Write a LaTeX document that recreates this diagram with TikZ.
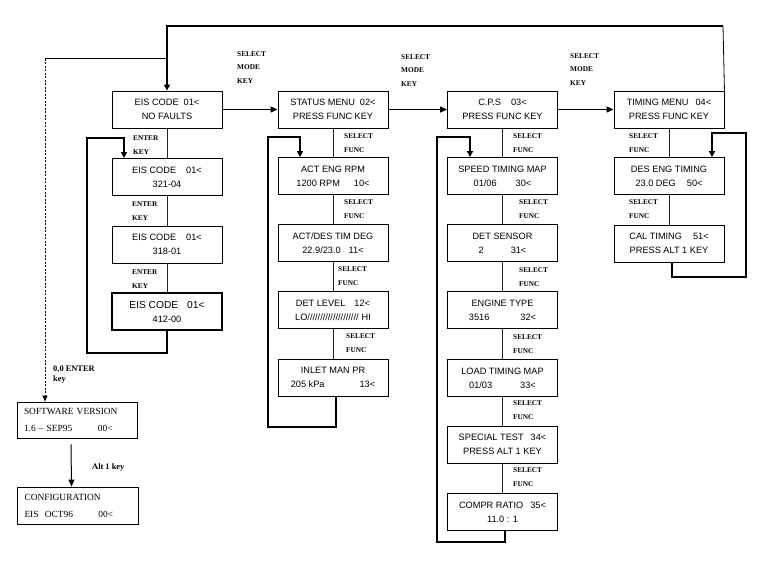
\documentclass[tikz,border=0pt]{standalone}
\usepackage{fontspec}
\setmainfont{Liberation Serif}
\setsansfont{Liberation Sans}
\usetikzlibrary{arrows.meta}

\begin{document}
\begin{tikzpicture}
[x=1pt,y=-1pt,
  screen/.style={shape=rectangle,draw,line width=0.9pt,minimum width=110pt,minimum height=37pt,inner sep=0pt,align=center,font=\sffamily\fontsize{9.2}{14}\selectfont},%
  infoBox/.style={shape=rectangle,draw,line width=0.9pt,minimum width=120pt,minimum height=36pt,inner sep=0pt,text width=106pt,align=left,font=\rmfamily\fontsize{9.4}{17}\selectfont},%
  keyLabel/.style={anchor=west,inner sep=0pt,align=left,font=\rmfamily\bfseries\fontsize{7.3}{14}\selectfont},%
  spineLine/.style={line width=0.8pt,color=black!85},%
  loopLine/.style={line width=2pt,-{Triangle[length=6pt,width=6pt]}},%
  modeArrow/.style={line width=1.3pt,-{Triangle[length=7pt,width=6pt]}},%
  thinLine/.style={line width=0.8pt}]
\useasboundingbox (0,0) rectangle (768,576);
%% the screens, one column at a time
\foreach \name/\y/\txt in {e0/109.5/{EIS CODE\hspace{5pt}01<\\NO FAULTS},
  e1/177/{EIS CODE\hspace{10pt}01<\\321-04},
  e2/244.5/{EIS CODE\hspace{10pt}01<\\318-01}}
{
  \node (\name) at (167,\y) [screen] {\txt};
}
\node (e3) at (167,311.5) [screen,line width=1.15pt]
  {{\fontsize{10.2}{14}\selectfont EIS CODE\hspace{9pt}01<}\\412-00};
\foreach \name/\y/\txt in {status/109.5/{STATUS MENU\hspace{5pt}02<\\PRESS FUNC KEY},
  rpm/176/{ACT ENG RPM\\1200 RPM\hspace{14pt}10<},
  tim/243/{ACT/DES TIM DEG\\22.9/23.0\hspace{8pt}11<},
  det/310/{DET LEVEL\hspace{9pt}12<\\LO////////////////////\hspace{3pt}HI},
  inlet/377.5/{INLET MAN PR\\205 kPa\hspace{35pt}13<}}
{
  \node (\name) at (333,\y) [screen] {\txt};
}
\foreach \name/\y/\txt in {cps/109.5/{C.P.S\hspace{10pt}03<\\PRESS FUNC KEY},
  speed/176/{SPEED TIMING MAP\\01/06\hspace{19pt}30<},
  sensor/243/{DET SENSOR\\2\hspace{27pt}31<},
  engine/310/{ENGINE TYPE\\3516\hspace{31pt}32<},
  load/378/{LOAD TIMING MAP\\01/03\hspace{28pt}33<},
  special/444.5/{SPECIAL TEST\hspace{7pt}34<\\PRESS ALT 1 KEY}}
{
  \node (\name) at (502.5,\y) [screen] {\txt};
}
\node (compr) at (502.5,512) [screen,line width=1.15pt] {COMPR RATIO\hspace{7pt}35<\\11.0 : 1};
\foreach \name/\y/\txt in {timing/109.5/{TIMING MENU\hspace{7pt}04<\\PRESS FUNC KEY},
  des/176/{DES ENG TIMING\\23.0 DEG\hspace{11pt}50<},
  cal/243.5/{CAL TIMING\hspace{11pt}51<\\PRESS ALT 1 KEY}}
{
  \node (\name) at (669,\y) [screen] {\txt};
}
\node (soft) at (77,420) [infoBox] {SOFTWARE VERSION\\\makebox[74pt][l]{1.6 -- SEP95}00<};
\node (config) at (77.5,505.5) [infoBox,minimum width=121pt,minimum height=37pt]
  {CONFIGURATION\\\makebox[74pt][l]{EIS\ \ OCT96}00<};
%% the key labels
\foreach \x/\y [count=\i] in {237/67.5, 401/70.5, 570/69.5}
{
  \node (mk\i) at (\x,\y) [keyLabel,font=\rmfamily\bfseries\fontsize{7.3}{13.5}\selectfont] {SELECT\\MODE\\KEY};
}
\foreach \x/\y [count=\i] in {133/145, 132/211.5, 132/279}
{
  \node (ek\i) at (\x,\y) [keyLabel] {ENTER\\KEY};
}
\foreach \x/\y [count=\i] in {344/143, 344/209, 338/276.5, 346/343,
  513/143, 519/209, 519/277, 513/344.5, 513/410, 513/477,
  629/143, 629/209.5}
{
  \node (sf\i) at (\x,\y) [keyLabel] {SELECT\\FUNC};
}
\node (zk) at (53,375) [keyLabel,font=\rmfamily\bfseries\fontsize{8.4}{10}\selectfont] {0,0 ENTER\\key};
\node (ak) at (92,467) [keyLabel,font=\rmfamily\bfseries\fontsize{8.4}{10}\selectfont] {Alt 1 key};
%% the spines down each column
\foreach \u/\v in {e0/e1, e1/e2, e2/e3, status/rpm, rpm/tim, tim/det, det/inlet,
  cps/speed, speed/sensor, sensor/engine, engine/load, load/special, special/compr,
  timing/des, des/cal}
{
  \draw[spineLine] (\u) -- (\v);
}
%% the mode key arrows
\foreach \u/\v in {e0/status, status/cps, cps/timing}
{
  \draw[modeArrow] (\u) -- (\v);
}
%% the loops back to the top of each column
\draw[loopLine] (e3.south) -- (e3.south |- 0,353) -| (87,138) -| ([xshift=-43pt]e1.north);
\draw[loopLine] ([xshift=3pt]inlet.south) -- ([xshift=3pt]inlet.south |- 0,427) -| (268,137) -| ([xshift=-33pt]rpm.north);
\draw[loopLine] ([xshift=2.5pt]compr.south) -- ([xshift=2.5pt]compr.south |- 0,542) -| (437,137) -| ([xshift=-32.5pt]speed.north);
\draw[loopLine] ([xshift=3pt]cal.south) -- ([xshift=3pt]cal.south |- 0,277) -| (746,133) -| ([xshift=43pt]des.north);
%% back to the first screen, and the hidden screens
\coordinate (topright) at (723,26);
\coordinate (topleft) at (167,26);
\coordinate (sw) at (45,58.5);
\draw[thinLine] (timing.north east) -- (topright);
\draw[loopLine] (topright) -- (topleft) -- (e0.north);
\draw[thinLine] (topleft |- sw) -- (sw);
\draw[thinLine,dash pattern=on 2pt off 1.5pt,-{Triangle[length=6pt,width=5pt]}] (sw) -- (sw |- soft.north);
\draw[line width=1pt,-{Triangle[length=7pt,width=6pt]}] ([xshift=-6pt,yshift=-6pt]soft.south) -- ([xshift=-6pt]config.north);
\end{tikzpicture}
\end{document}
